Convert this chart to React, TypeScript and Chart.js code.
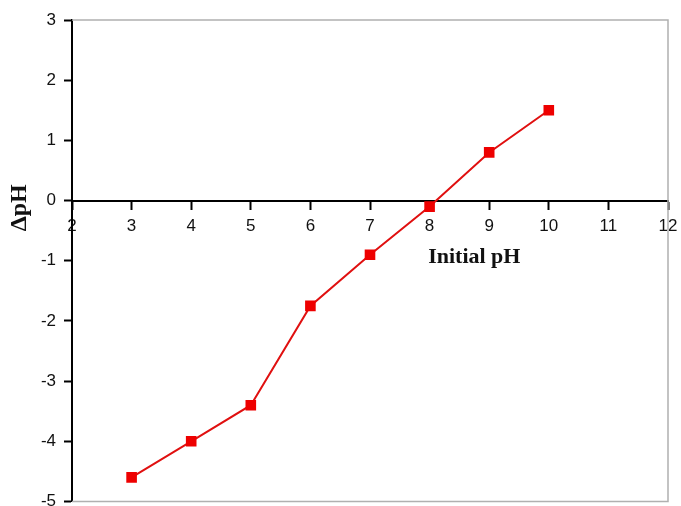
import React, { useEffect, useRef } from "react";
import { Chart, registerables } from "chart.js";

Chart.register(...registerables);

const initialPH = [3, 4, 5, 6, 7, 8, 9, 10];
const deltaPH = [-4.6, -4.0, -3.4, -1.75, -0.9, -0.1, 0.8, 1.5];
const xTicks = [2, 3, 4, 5, 6, 7, 8, 9, 10, 11, 12];
const yTicks = [-5, -4, -3, -2, -1, 0, 1, 2, 3];
const xTitle = "Initial pH";
const yTitle = "ΔpH";

const framePlugin = {
  id: "frame",
  beforeDatasetsDraw(chart: any) {
    const { ctx, chartArea } = chart;
    ctx.save();
    ctx.strokeStyle = "#b0b0b0";
    ctx.lineWidth = 1.5;
    ctx.beginPath();
    ctx.moveTo(chartArea.left, chartArea.top);
    ctx.lineTo(chartArea.right, chartArea.top);
    ctx.lineTo(chartArea.right, chartArea.bottom);
    ctx.lineTo(chartArea.left, chartArea.bottom);
    ctx.stroke();
    ctx.restore();
  },
  afterDraw(chart: any) {
    const { ctx } = chart;
    const xs = chart.scales.x;
    const ys = chart.scales.y;
    ctx.save();
    ctx.fillStyle = "#111";
    ctx.font = "bold 22px 'Liberation Serif', 'Times New Roman', serif";
    ctx.textAlign = "center";
    ctx.textBaseline = "middle";
    ctx.fillText(xTitle, xs.getPixelForValue(8.75), ys.getPixelForValue(-0.95));
    ctx.translate(20, ys.getPixelForValue(-0.12));
    ctx.rotate(-Math.PI / 2);
    ctx.font = "bold 24px 'Liberation Serif', 'Times New Roman', serif";
    ctx.fillText(yTitle, 0, 0);
    ctx.restore();
  },
};

export default function App() {
  const ref = useRef<HTMLCanvasElement | null>(null);
  useEffect(() => {
    if (!ref.current) return;
    const chart = new Chart(ref.current, {
      type: "scatter",
      data: {
        datasets: [
          {
            data: initialPH.map((x, i) => ({ x, y: deltaPH[i] })),
            showLine: true,
            borderColor: "#e01010",
            backgroundColor: "#ee0000",
            borderWidth: 2,
            pointStyle: "rect",
            pointRadius: 7.5,
            pointBorderWidth: 0,
            pointBackgroundColor: "#ee0000",
          },
        ],
      },
      plugins: [framePlugin],
      options: {
        animation: false,
        responsive: false,
        maintainAspectRatio: false,
        layout: { padding: { top: 20, right: 13, bottom: 2, left: 0 } },
        plugins: { legend: { display: false }, tooltip: { enabled: false } },
        scales: {
          x: {
            type: "linear",
            position: { y: 0 } as any,
            min: 2,
            max: 12,
            afterBuildTicks: (s: any) => {
              s.ticks = xTicks.map((v) => ({ value: v }));
            },
            afterFit: (s: any) => {
              s.paddingLeft = 0;
              s.paddingRight = 0;
            },
            grid: {
              drawOnChartArea: false,
              drawTicks: true,
              tickLength: 8,
              tickWidth: 2,
              color: "#000",
            },
            border: { display: true, color: "#000", width: 2 },
            ticks: {
              color: "#111",
              padding: 8,
              maxRotation: 0,
              autoSkip: false,
              font: { family: "'Liberation Sans', Arial, sans-serif", size: 17 },
            },
          },
          y: {
            type: "linear",
            min: -5,
            max: 3,
            afterBuildTicks: (s: any) => {
              s.ticks = yTicks.map((v) => ({ value: v }));
            },
            afterFit: (s: any) => {
              s.width = 72;
              s.paddingTop = 0;
              s.paddingBottom = 0;
            },
            grid: {
              drawOnChartArea: false,
              drawTicks: true,
              tickLength: 8,
              tickWidth: 2,
              color: "#000",
            },
            border: { display: true, color: "#000", width: 2 },
            ticks: {
              color: "#111",
              padding: 8,
              autoSkip: false,
              font: { family: "'Liberation Sans', Arial, sans-serif", size: 17 },
            },
          },
        },
      },
    });
    return () => chart.destroy();
  }, []);
  return (
    <div style={{ position: "fixed", left: 0, top: 0, width: 681, height: 506, overflow: "hidden", background: "#fff" }}>
      <canvas ref={ref} width={681} height={509} style={{ width: 681, height: 509, display: "block" }} />
    </div>
  );
}
